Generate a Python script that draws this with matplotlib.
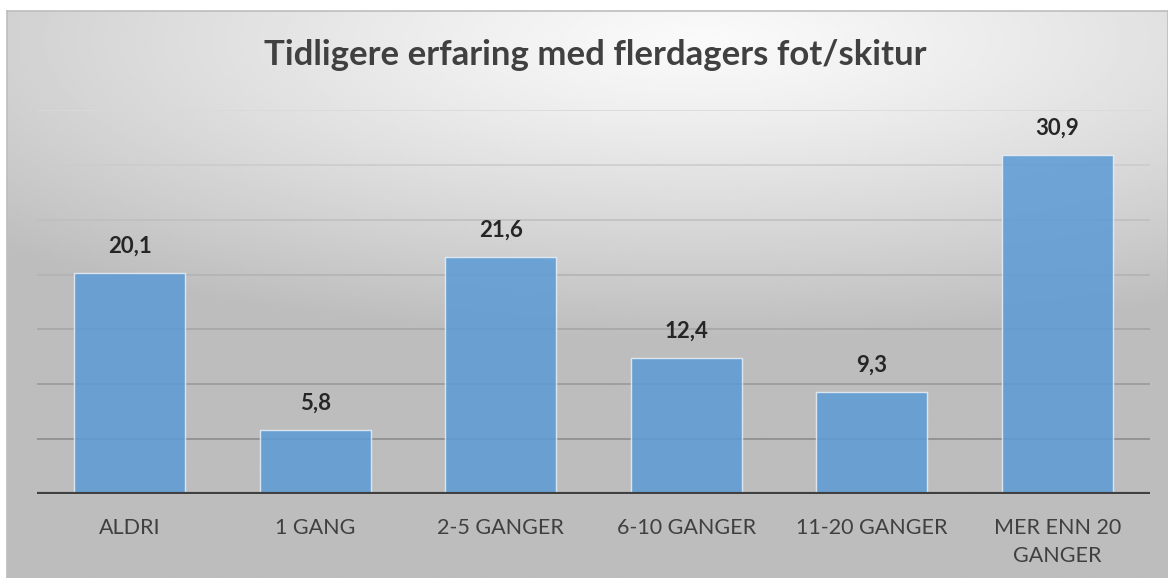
import numpy as np
import matplotlib.pyplot as plt

# Chart data
categories = ["ALDRI", "1 GANG", "2-5 GANGER", "6-10 GANGER", "11-20 GANGER", "MER ENN 20\nGANGER"]
values = [20.1, 5.8, 21.6, 12.4, 9.3, 30.9]
value_labels = ["20,1", "5,8", "21,6", "12,4", "9,3", "30,9"]
y_ticks = [0, 5, 10, 15, 20, 25, 30, 35]

plt.rcParams["font.family"] = ["Lato", "DejaVu Sans"]

W, H = 1168, 578
fig = plt.figure(figsize=(W / 100, H / 100), dpi=100)
fig.patch.set_facecolor("white")

# Background panel with radial grey gradient
bg = fig.add_axes([7 / W, 0, 1 - 7 / W, (H - 11) / H], zorder=0)
nx, ny = 400, 200
xx, yy = np.meshgrid(np.linspace(0, 1, nx), np.linspace(0, 1, ny))
r = np.sqrt(((xx - 0.6) * 1.0) ** 2 + ((yy - 0.95) * 1.6) ** 2)
shade = 0.98 - 0.24 * np.clip(r / 0.85, 0, 1) ** 1.2
bg.imshow(shade, cmap="gray", vmin=0, vmax=1, origin="lower",
          extent=[0, 1, 0, 1], aspect="auto", interpolation="bilinear")
bg.set_xlim(0, 1)
bg.set_ylim(0, 1)
bg.set_xticks([])
bg.set_yticks([])
for s in bg.spines.values():
    s.set_color("#bdbdbd")
    s.set_linewidth(1.2)

# Main axes
ax = fig.add_axes([37 / W, 84 / H, 1113 / W, 384 / H], zorder=1)
ax.patch.set_alpha(0)
x = np.arange(len(categories))

# gridlines, lighter toward top
for i, t in enumerate(y_ticks[1:]):
    c = 0.55 + 0.3 * i / (len(y_ticks) - 2)
    ax.axhline(t, color=(c, c, c), linewidth=1.2, zorder=1)

ax.bar(x, values, width=0.6, color="#5B9BD5", alpha=0.85,
       edgecolor="#e8f0f8", linewidth=1.0, zorder=2)
ax.axhline(0, color="#404040", linewidth=3, zorder=3)

for xi, v, lab in zip(x, values, value_labels):
    ax.annotate(lab, (xi, v), xytext=(0, 12), textcoords="offset points",
                ha="center", va="bottom", fontsize=16, fontweight="bold",
                color="#262626")

ax.set_xlim(-0.5, len(categories) - 0.5)
ax.set_ylim(0, 35)
ax.set_yticks([])
ax.set_xticks(x)
ax.set_xticklabels(categories, fontsize=15.5, color="#404040", linespacing=1.55)
ax.tick_params(axis="x", length=0, pad=17)
for s in ax.spines.values():
    s.set_visible(False)

fig.text(595 / W, 1 - 55 / H, "Tidligere erfaring med flerdagers fot/skitur",
         ha="center", va="center", fontsize=25, fontweight="bold", color="#404040")

fig.savefig("out.png", dpi=100)
